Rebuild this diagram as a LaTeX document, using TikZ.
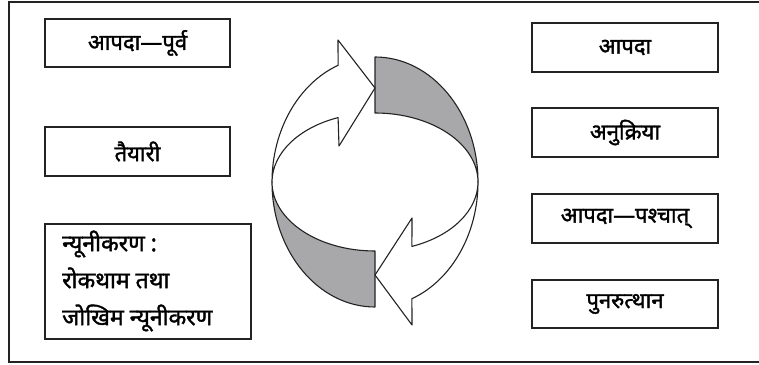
\documentclass[tikz,border=0pt]{standalone}
\usepackage{fontspec}
\newfontfamily\dev[Script=Devanagari,FakeBold=1.6]{Noto Sans}
\usetikzlibrary{calc}
\definecolor{ringgray}{RGB}{168,168,170}
\definecolor{linecol}{RGB}{35,35,35}
\begin{document}
\begin{tikzpicture}[x=1pt,y=1pt,
  box/.style={draw=linecol, line width=1.3pt, minimum width=185pt, minimum height=48pt, inner sep=0pt, font=\dev\fontsize{22}{26}\selectfont},
  ring/.style={draw=linecol, line width=1.1pt, line join=round},
  shadeband/.style={ring, fill=ringgray},
  blankarrow/.style={ring, fill=white}]
\useasboundingbox (0,0) rectangle (759,364);
\draw[linecol, line width=1.3pt] (759,362) -- (9,362) -- (9,2) -- (759,2);
% ring
\coordinate (C) at (375,182);
\coordinate (L) at (272,182);
\coordinate (R) at (478,182);
\draw[shadeband] (C) ++(0,125) arc[start angle=90,end angle=0,x radius=103,y radius=125]
  arc[start angle=0,end angle=90,x radius=103,y radius=69] -- cycle;
\draw[shadeband] (L) arc[start angle=180,end angle=270,x radius=103,y radius=125] -- ++(0,56)
  arc[start angle=270,end angle=180,x radius=103,y radius=69] -- cycle;
\draw[blankarrow] (L) arc[start angle=180,end angle=111,x radius=103,y radius=125]
  -- (338,324) -- (375,276) -- (339,218) -- ($(C)+(111:103 and 69)$)
  arc[start angle=111,end angle=180,x radius=103,y radius=69] -- cycle;
\draw[blankarrow] (R) arc[start angle=0,end angle=-69,x radius=103,y radius=125]
  -- (412,39) -- (375,89) -- (412,146) -- ($(C)+(-69:103 and 69)$)
  arc[start angle=-69,end angle=0,x radius=103,y radius=69] -- cycle;
% boxes
\node[box] (pre) at (137.5,321) {आपदा—पूर्व};
\node[box, minimum height=49pt] (prep) at (137.5,212.5) {तैयारी};
\node[box, minimum width=206pt, minimum height=115pt] (mit) at (148,82.5) {};
\node[font=\dev\fontsize{23}{37}\selectfont, align=left, anchor=west, inner sep=0pt] (mittext) at (62,83) {न्यूनीकरण :\\ रोकथाम तथा\\ जोखिम न्यूनीकरण};
\node[box, minimum width=186pt, minimum height=49pt] (dis) at (625,316.5) {आपदा};
\node[box, minimum width=186pt, minimum height=49pt] (resp) at (625,231.5) {अनुक्रिया};
\node[box, minimum width=186pt, minimum height=49pt] (post) at (625,145.5) {आपदा—पश्चात्};
\node[box, minimum width=186pt, minimum height=48pt] (rec) at (625,60) {पुनरुत्थान};
\end{tikzpicture}
\end{document}
